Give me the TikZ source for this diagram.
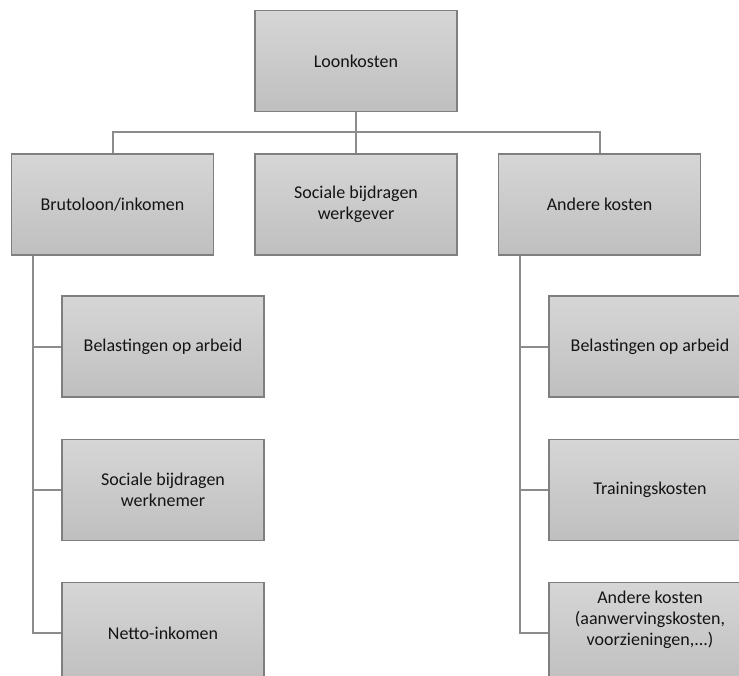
\documentclass[tikz,border=0pt]{standalone}
\usepackage{fontspec}
\setmainfont{Carlito}
\definecolor{boxtop}{HTML}{D6D6D6}
\definecolor{boxbot}{HTML}{BFBFBF}
\definecolor{boxline}{HTML}{7F7F7F}
\definecolor{linkgray}{HTML}{8C8C8C}
\definecolor{txt}{HTML}{141414}
\tikzset{
  orgbox/.style={draw=boxline, line width=1.3pt, top color=boxtop, bottom color=boxbot,
    minimum width=202pt, minimum height=101pt, inner sep=2pt, align=center,
    text=txt, font=\fontsize{18}{21}\selectfont},
  boxtext/.style={inner sep=0pt, align=center, text=txt, font=\fontsize{18}{21}\selectfont},
  link/.style={draw=linkgray, line width=2pt}
}
\begin{document}
\begin{tikzpicture}[x=1pt,y=-1pt]
\useasboundingbox (0,0) rectangle (739,676);
\clip (0,0) rectangle (739,676);
\fill[white] (0,0) rectangle (739,676);
\coordinate (busy) at (0,132);
\coordinate (lx) at (33,0);
\coordinate (rx) at (520,0);
\node[orgbox] (L0) at (356,61) {Loonkosten};
\node[orgbox] (B1) at (112.5,204.5) {Brutoloon/inkomen};
\node[orgbox] (B2) at (356,204.5) {Sociale bijdragen\\werkgever};
\node[orgbox] (B3) at (599.5,204.5) {Andere kosten};
\node[orgbox] (C1) at (163,346.5) {Belastingen op arbeid};
\node[orgbox] (C2) at (163,490) {Sociale bijdragen\\werknemer};
\node[orgbox] (C3) at (163,633) {Netto-inkomen};
\node[orgbox] (D1) at (650,346.5) {Belastingen op arbeid};
\node[orgbox] (D2) at (650,490) {Trainingskosten};
\node[orgbox] (D3) at (650,633) {};
\node[boxtext] (D3t) at ([yshift=13pt]D3.center) {Andere kosten\\(aanwervingskosten,\\voorzieningen,...)};
\draw[link] (L0.south) -- (L0.south |- busy);
\draw[link] (B1.north) |- (B3.north |- busy) -- (B3.north);
\draw[link] (B2.north |- busy) -- (B2.north);
\draw[link] (lx |- B1.south) |- (C3.west);
\draw[link] (lx |- C1.west) -- (C1.west);
\draw[link] (lx |- C2.west) -- (C2.west);
\draw[link] (rx |- B3.south) |- (D3.west);
\draw[link] (rx |- D1.west) -- (D1.west);
\draw[link] (rx |- D2.west) -- (D2.west);
\end{tikzpicture}
\end{document}
